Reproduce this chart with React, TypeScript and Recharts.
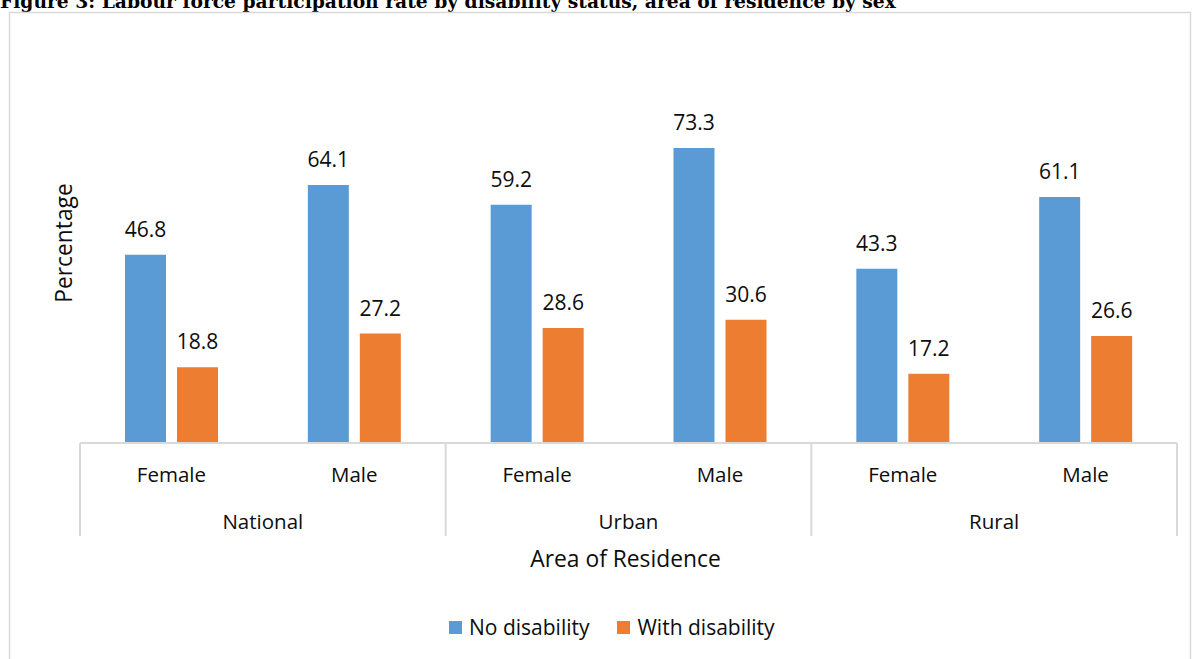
import { BarChart, Bar, XAxis, YAxis, LabelList, Legend } from 'recharts';

// data
const areas = ['National', 'National', 'Urban', 'Urban', 'Rural', 'Rural'];
const sexes = ['Female', 'Male', 'Female', 'Male', 'Female', 'Male'];
const noDisability = [46.8, 64.1, 59.2, 73.3, 43.3, 61.1];
const withDisability = [18.8, 27.2, 28.6, 30.6, 17.2, 26.6];
const seriesNames = ['No disability', 'With disability'];
const seriesColors = ['#5b9bd5', '#ed7d31'];
const yDomain = [0, 80];

const title =
  'Figure 3: Labour force participation rate by disability status, area of residence by sex';
const yTitle = 'Percentage';
const xTitle = 'Area of Residence';

const W = 1194;
const H = 659;
const margin = { top: 121, right: 17, left: 80, bottom: 123 };
const axisHeight = 93;
const textColor = '#0d0d0d';
const lineColor = '#d9d9d9';
const font = '"Open Sans", "DejaVu Sans", sans-serif';

const data = sexes.map((sex, i) => ({
  sex,
  area: areas[i],
  noDis: noDisability[i],
  withDis: withDisability[i],
}));

const band = (W - margin.left - margin.right) / data.length;

function CategoryTick(props: any) {
  const { x, y, payload } = props;
  const i = payload.index;
  const half = band / 2;
  return (
    <g>
      <text x={x} y={y + 39} textAnchor="middle" fontSize={20.5} fill={textColor}>
        {payload.value}
      </text>
      {i % 2 === 0 && (
        <>
          <line x1={x - half} x2={x - half} y1={y} y2={y + axisHeight} stroke={lineColor} strokeWidth={2} />
          <text x={x + half} y={y + 86} textAnchor="middle" fontSize={20.5} fill={textColor}>
            {data[i].area}
          </text>
        </>
      )}
      {i === data.length - 1 && (
        <line x1={x + half} x2={x + half} y1={y} y2={y + axisHeight} stroke={lineColor} strokeWidth={2} />
      )}
    </g>
  );
}

function LegendContent(props: any) {
  const items = props.payload || [];
  return (
    <div style={{ display: 'flex', alignItems: 'center', fontSize: 21, color: textColor, fontFamily: font }}>
      {items.map((e: any, i: number) => (
        <div key={i} style={{ display: 'flex', alignItems: 'center', marginRight: 28 }}>
          <span style={{ display: 'inline-block', width: 13, height: 13, background: e.color, marginRight: 7 }} />
          <span>{e.value}</span>
        </div>
      ))}
    </div>
  );
}

export default function App() {
  return (
    <div style={{ position: 'absolute', left: 0, top: 0, width: W, height: H, background: '#fff', fontFamily: font, overflow: 'hidden' }}>
      <svg width={W} height={H} style={{ position: 'absolute', left: 0, top: 0 }}>
        <text x={0} y={8} fontFamily='"DejaVu Serif", serif' fontWeight="bold" fontSize={18.7} fill="#000">
          {title}
        </text>
        <rect x={9.5} y={12.5} width={1181} height={700} fill="none" stroke={lineColor} strokeWidth={1.5} />
        <text x={63} y={243} transform="rotate(-90 63 243)" textAnchor="middle" dominantBaseline="central" fontSize={22.8} fill={textColor}>
          {yTitle}
        </text>
        <text x={625.5} y={567} textAnchor="middle" fontSize={22.8} fill={textColor}>
          {xTitle}
        </text>
      </svg>
      <div style={{ position: 'absolute', left: 0, top: 0 }}>
        <BarChart width={W} height={H} data={data} margin={margin} barSize={41} barGap={11}>
          <XAxis
            dataKey="sex"
            interval={0}
            height={axisHeight}
            tickSize={0}
            tickMargin={0}
            tickLine={false}
            axisLine={{ stroke: lineColor, strokeWidth: 2 }}
            tick={<CategoryTick />}
          />
          <YAxis hide domain={yDomain} />
          <Legend
            verticalAlign="middle"
            align="center"
            layout="horizontal"
            content={<LegendContent />}
            wrapperStyle={{ top: 613, left: 449, width: 520 }}
          />
          <Bar dataKey="noDis" name={seriesNames[0]} fill={seriesColors[0]} isAnimationActive={false}>
            <LabelList dataKey="noDis" position="top" offset={18} fontSize={21} fill={textColor} />
          </Bar>
          <Bar dataKey="withDis" name={seriesNames[1]} fill={seriesColors[1]} isAnimationActive={false}>
            <LabelList dataKey="withDis" position="top" offset={18} fontSize={21} fill={textColor} />
          </Bar>
        </BarChart>
      </div>
    </div>
  );
}
